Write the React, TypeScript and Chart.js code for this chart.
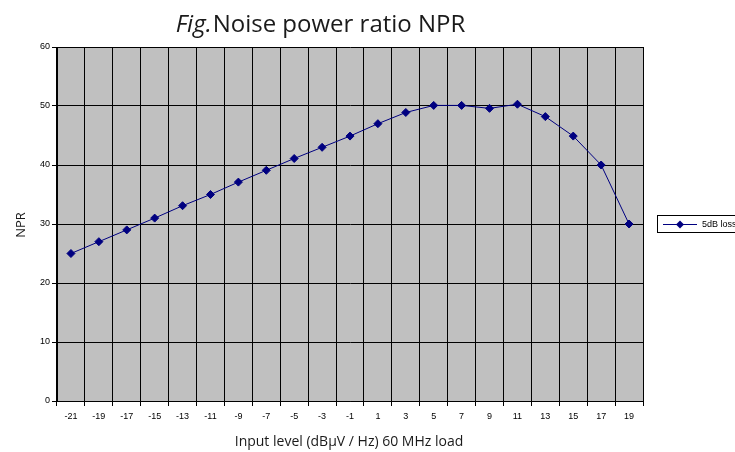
import React, { useEffect, useRef } from 'react';
import { Chart, registerables } from 'chart.js';

Chart.register(...registerables);

// ---- data ----
const categories = ['-21', '-19', '-17', '-15', '-13', '-11', '-9', '-7', '-5', '-3', '-1', '1', '3', '5', '7', '9', '11', '13', '15', '17', '19'];
const nprValues = [25, 27, 29, 31, 33.1, 35, 37.1, 39.1, 41.1, 43, 44.9, 47, 48.9, 50.1, 50.1, 49.6, 50.3, 48.2, 44.9, 40, 30];
const seriesName = '5dB loss';
const yMin = 0;
const yMax = 60;
const yStep = 10;
const titleItalic = 'Fig.';
const titleRest = 'Noise power ratio NPR';
const xTitle = 'Input level (dBµV / Hz) 60 MHz load';
const yTitle = 'NPR';

const NAVY = '#000080';

const decorPlugin = {
  id: 'decor',
  beforeDraw(chart: any) {
    const { ctx, chartArea } = chart;
    ctx.save();
    ctx.fillStyle = '#ffffff';
    ctx.fillRect(0, 0, chart.width, chart.height);
    ctx.fillStyle = '#C0C0C0';
    ctx.fillRect(chartArea.left, chartArea.top, chartArea.right - chartArea.left, chartArea.bottom - chartArea.top);
    ctx.restore();
  },
  afterDraw(chart: any) {
    const { ctx } = chart;
    ctx.save();
    // Title
    ctx.fillStyle = '#1a1a1a';
    ctx.textBaseline = 'alphabetic';
    ctx.textAlign = 'left';
    const italicFont = 'italic 24px "Open Sans"';
    const regFont = '24px "Open Sans"';
    ctx.font = italicFont;
    const w1 = ctx.measureText(titleItalic).width;
    ctx.font = regFont;
    const w2 = ctx.measureText(titleRest).width;
    const startX = 320 - (w1 + w2) / 2;
    ctx.font = italicFont;
    ctx.fillText(titleItalic, startX, 32);
    ctx.font = regFont;
    ctx.fillText(titleRest, startX + w1 + 1, 32);

    // X axis title
    ctx.font = '14px "Open Sans"';
    ctx.textAlign = 'center';
    ctx.fillText(xTitle, 349, 446);

    // Y axis title
    ctx.save();
    ctx.translate(25, 225);
    ctx.rotate(-Math.PI / 2);
    ctx.textAlign = 'center';
    ctx.textBaseline = 'alphabetic';
    ctx.font = '13px "Open Sans"';
    ctx.fillText(yTitle, 0, 0);
    ctx.restore();

    // Legend
    const ly = 224;
    ctx.fillStyle = '#ffffff';
    ctx.fillRect(657.5, 215.5, 100, 17);
    ctx.strokeStyle = '#000000';
    ctx.lineWidth = 1;
    ctx.strokeRect(657.5, 215.5, 100, 17);
    ctx.strokeStyle = NAVY;
    ctx.beginPath();
    ctx.moveTo(663, ly + 0.5);
    ctx.lineTo(697, ly + 0.5);
    ctx.stroke();
    ctx.fillStyle = NAVY;
    ctx.beginPath();
    ctx.moveTo(680, ly + 0.5 - 4);
    ctx.lineTo(684, ly + 0.5);
    ctx.lineTo(680, ly + 0.5 + 4);
    ctx.lineTo(676, ly + 0.5);
    ctx.closePath();
    ctx.fill();
    ctx.fillStyle = '#000000';
    ctx.font = '9px "Liberation Sans"';
    ctx.textAlign = 'left';
    ctx.textBaseline = 'middle';
    ctx.fillText(seriesName, 702, ly + 1);
    ctx.restore();
  },
};

export default function App() {
  const canvasRef = useRef<HTMLCanvasElement | null>(null);

  useEffect(() => {
    if (!canvasRef.current) return;
    const chart = new Chart(canvasRef.current, {
      type: 'line',
      data: {
        labels: categories,
        datasets: [
          {
            label: seriesName,
            data: nprValues,
            borderColor: NAVY,
            backgroundColor: NAVY,
            borderWidth: 1,
            pointStyle: 'rectRot',
            pointRadius: 4,
            pointBorderWidth: 1,
            pointBorderColor: NAVY,
            pointBackgroundColor: NAVY,
            tension: 0,
            fill: false,
          },
        ],
      },
      options: {
        animation: false,
        responsive: false,
        maintainAspectRatio: false,
        layout: { padding: { top: 47, right: 92, left: 0, bottom: 0 } },
        plugins: {
          legend: { display: false },
          title: { display: false },
          tooltip: { enabled: false },
        },
        scales: {
          x: {
            type: 'category',
            offset: true,
            grid: {
              offset: true,
              color: (c: any) => (c.index === categories.length ? '#808080' : '#000000'),
              lineWidth: 1,
              tickLength: 5,
              drawTicks: true,
            },
            border: { color: '#000000', width: 1 },
            ticks: {
              color: '#000000',
              font: { family: '"Liberation Sans"', size: 9 },
              padding: 5,
              maxRotation: 0,
              autoSkip: false,
            },
            afterFit: (s: any) => {
              s.height = 51;
            },
          },
          y: {
            min: yMin,
            max: yMax,
            grid: { color: '#000000', lineWidth: 1, tickLength: 5 },
            border: { color: '#000000', width: 1 },
            ticks: {
              stepSize: yStep,
              color: '#000000',
              font: { family: '"Liberation Sans"', size: 9 },
              padding: 2,
            },
            afterFit: (s: any) => {
              s.width = 57;
            },
          },
        },
      },
      plugins: [decorPlugin],
    });
    return () => chart.destroy();
  }, []);

  return (
    <div style={{ position: 'absolute', left: 0, top: 0, width: 735, height: 452, overflow: 'hidden' }}>
      <canvas ref={canvasRef} width={735} height={452} style={{ display: 'block' }} />
    </div>
  );
}
